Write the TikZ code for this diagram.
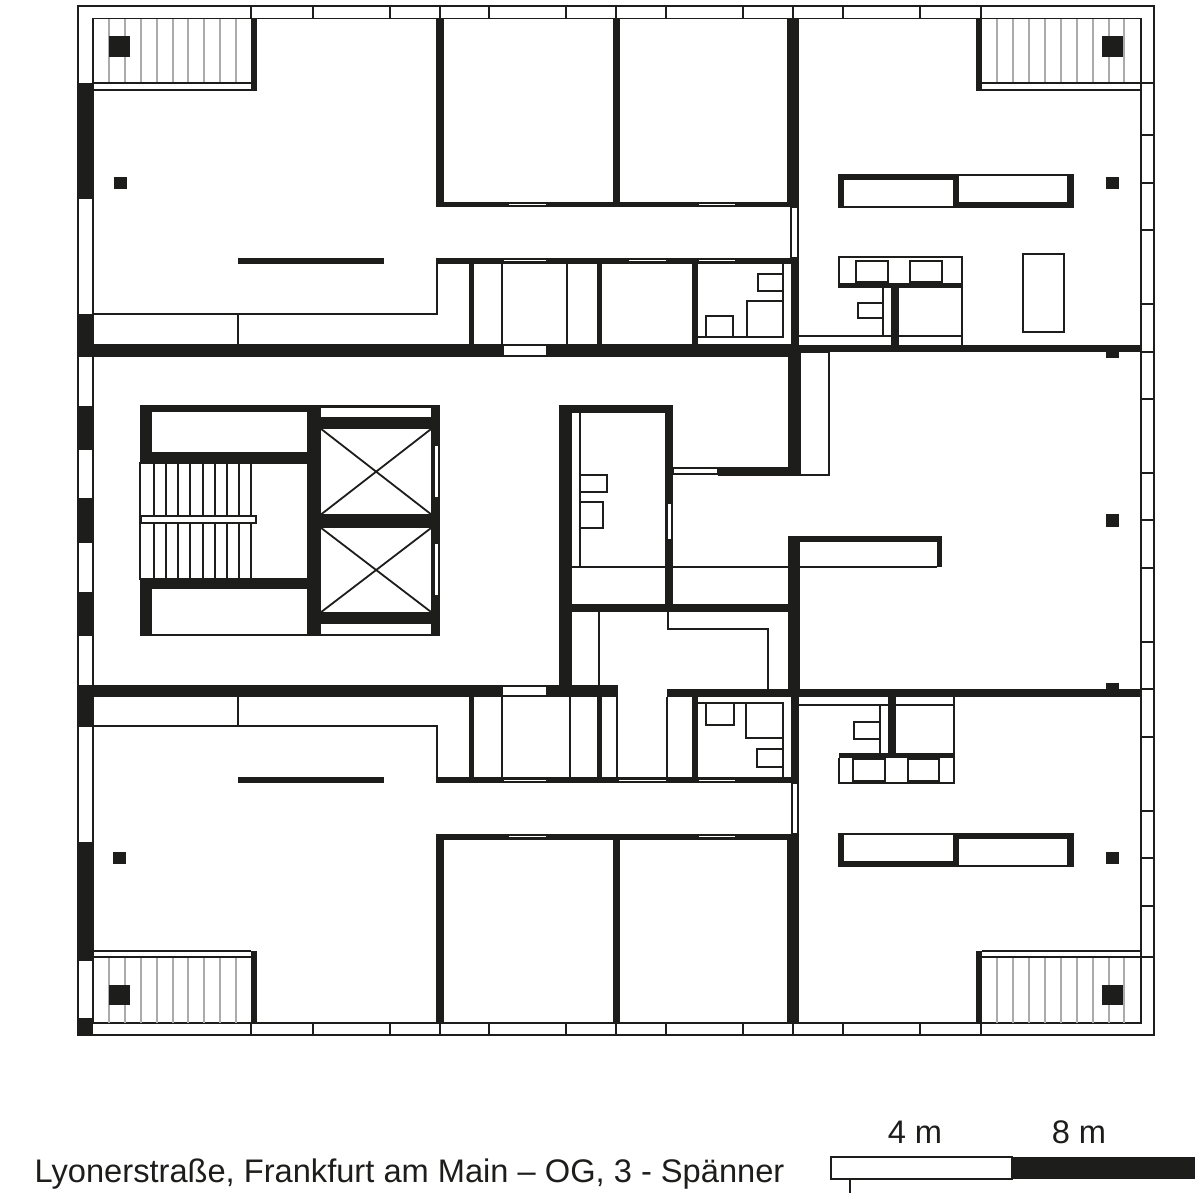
\documentclass[tikz,border=0pt]{standalone}
\usepackage{fontspec}
\setmainfont{Liberation Sans}
\definecolor{wallBlack}{HTML}{1D1D1B}
\definecolor{slatGrey}{HTML}{ABABAB}
\tikzset{
  wall/.style={fill=wallBlack},
  thinLine/.style={draw=wallBlack,line width=0.18mm},
  opening/.style={thinLine,fill=white},
  slat/.style={draw=slatGrey,line width=0.2mm},
  labelText/.style={anchor=base,inner sep=0pt,text=wallBlack,font=\fontsize{9.28pt}{11pt}\selectfont}
}
\begin{document}
\begin{tikzpicture}[x=0.01cm,y=-0.01cm]
  \useasboundingbox[fill=white] (0,0) rectangle (1200,1200);
  % facade
  \draw[thinLine] (78,6) rectangle (1154,1035);
  \draw[thinLine] (93,18.5) rectangle (1141,1023);
  \foreach \xm in {251,313,390,440,489,566,616,666,743,793,843,920,981} {
    \draw[thinLine] (\xm,6) -- (\xm,18.5);
    \draw[thinLine] (\xm,1023) -- (\xm,1035);
  }
  \foreach \ym in {83.3,135,182.7,230.3,304,351.7,399.3,472.7,520.3,568.3,641.7,689.3,737.3,810.7,858.3,906,957.3}
    \draw[thinLine] (1141,\ym) -- (1154,\ym);
  \foreach \ya/\yb in {83.3/199,314/357,405.7/450,498.3/542.7,591.7/635.7,685/726.7,842.3/961,1018.3/1035}
    \fill[wall] (78,\ya) rectangle (93,\yb);
  % balconies
  \foreach \yTop/\yBot/\yA/\yB/\yC/\yD in {18.5/83.3/83.3/89.7/36.3/56.7,957.3/1023/950.7/957.3/984.7/1004.7} {
    \foreach \xs in {109,125,140.7,156.7,172.7,188.3,204,220,236,997.3,1013.3,1029.3,1045,1061,1076.7,1092.7,1108.7,1124.3}
      \draw[slat] (\xs,\yTop) -- (\xs,\yBot);
    \draw[thinLine] (93,\yA) -- (251,\yA) (93,\yB) -- (251,\yB);
    \draw[thinLine] (982,\yA) -- (1141,\yA) (982,\yB) -- (1141,\yB);
    \fill[wall] (109,\yC) rectangle (130.3,\yD);
    \fill[wall] (1102,\yC) rectangle (1122.7,\yD);
  }
  % thin partitions
  \draw[thinLine] (93,314.3) -- (436.7,314.3) -- (436.7,258);
  \draw[thinLine] (93,726) -- (436.7,726) -- (436.7,777.3);
  \foreach \xv/\ya/\yb in {501.7/263/344,567.3/263/344,501.7/697/777,570.3/697/777,617.3/697/777,667.3/697/777,598.7/612/685,580/413/566.7,882.7/288/335.7,879.7/705/752.7}
    \draw[thinLine] (\xv,\ya) -- (\xv,\yb);
  \draw[thinLine] (697.7,337) -- (783.3,337) -- (783.3,263.7);
  \draw[thinLine] (697.7,703.3) -- (782.7,703.3) -- (782.7,777);
  \draw[thinLine] (799,335.7) -- (961.7,335.7);
  \draw[thinLine] (799,705) -- (953.7,705);
  \draw[thinLine] (572,566.7) -- (936.7,566.7);
  \draw[thinLine] (667.7,612) -- (667.7,629) -- (767.7,629) -- (767.7,690);
  \draw[thinLine] (800,352) rectangle (829.3,474.7);
  \draw[thinLine] (839,288) -- (839,256.7) -- (961.7,256.7) -- (961.7,345);
  \draw[thinLine] (953.7,697) -- (953.7,782.7) -- (839,782.7) -- (839,758);
  % fixtures
  \foreach \xa/\ya/\xb/\yb in {758/274/783.3/291,747/300.7/783.3/337,706.3/315.7/733/337,705.7/703.3/734.3/725,746/703.3/782.7/738.3,757/749.3/782.7/766.7,855.7/260.7/887.7/282,909.7/260.7/942/282,857.7/303/882.7/318.3,1023/254.3/1063.7/332,854/722.3/879.7/739.3,853.3/759/885/780.7,907.7/759/939/780.7,580/475/606.7/491.7,580/501.7/602.7/528}
    \draw[thinLine] (\xa,\ya) rectangle (\xb,\yb);
  % walls
  \foreach \xa/\ya/\xb/\yb in {
    78/344/793/357.3,237/314/239/344,237/696/239/726,
    237.7/257.7/384/263.7,237.7/777.3/384/783.3,
    251.3/18.5/256.7/90.7,251/950.7/256.7/1023,976/18.5/982.3/90.7,976/950.7/982.3/1023,
    435.7/18.5/444/207.3,612.7/18.5/620.3/203,786.7/18.5/799.3/207.3,436/201.7/793/207.3,
    436/257.7/799/263.7,468.7/263/474.3/344,596.7/263/602.3/344,691.7/263/697.7/344,791.3/257.7/799.3/345,
    799/345/1141/352.3,787.7/344/799.3/352,787.7/352/800.3/475.7,718.3/467.3/800.3/475.7,
    839/282.7/962/288.3,891/288/899/345,
    839/174.7/959/180.3,839/174.7/844.3/207.3,953.3/174.7/959/207.3,953.3/201.7/1073/207.3,1067.3/174.7/1073/207.3,
    559/405/572/685,559/405/673.3/413.3,665.3/405/673.3/605,559/604/788/612,
    787.7/536/800.3/697,787.7/536/942.3/541.7,936.7/536/942.3/567.3,
    78/685/502.3/696.5,502/684.5/618/697,667/689.3/1141/696.7,
    436/777.3/799/783.3,468.7/697/474.3/777,596.7/697/602.3/777,691.7/697/697.7/777,791.3/690/799.3/783,
    888.3/697/896.3/755,839/752.7/953.7/758.3,
    839/860.7/959/866.3,839/833.7/844.3/866.3,953.3/833.7/959/866.3,953.3/833.7/1073/839.3,1067.3/833.7/1073/866.3,
    435.7/833.7/444/1023,436/833.7/793/839.7,612.7/839/620.3/1023,786.7/833.7/799.3/1023,
    114/176.7/127/189,1106/176.7/1118.7/189,112.7/852.3/125.7/864.3,1106/852.3/1118.7/864.3,
    1106/514.3/1118.7/526.7,1106/352/1118.7/357.7,1106/683.3/1118.7/690}
    \fill[wall] (\xa,\ya) rectangle (\xb,\yb);
  \draw[thinLine] (839,174.7) rectangle (1073,207.3);
  \draw[thinLine] (839,833.7) rectangle (1073,866.3);
  % openings in the walls
  \foreach \xa/\ya/\xb/\yb in {
    502.7/345.3/546.7/356,502.3/686/546.7/696,
    508.3/203.5/546.7/206,697.7/203.5/736/206,
    502.7/259.3/546.7/262.3,628.3/259.3/666.7/262.3,697.7/259.3/736/262.3,
    502.7/778.7/546.7/782,618/778.7/666.7/782,697.7/778.7/736/782,
    508.3/835.3/546.7/838,697.7/835.3/736/838,
    791.3/207.3/798.3/257.7,792/783.3/798/833.7,
    673.3/468.3/718.3/474,667/503.3/672/540}
    \draw[opening] (\xa,\ya) rectangle (\xb,\yb);
  % core
  \fill[wall] (140.3,405.3) rectangle (440.3,636);
  \foreach \xa/\ya/\xb/\yb in {
    150.7/411.3/307.7/452.7,140.3/462.7/307.7/578.7,150.7/588.3/307.7/635,
    320.3/406.7/432/418,320.3/623.3/432/635,
    320.3/428.3/432/515,320.3/527.3/432/612.7,
    434/445.3/439/498,434/543.3/439/595.7}
    \draw[opening] (\xa,\ya) rectangle (\xb,\yb);
  \foreach \xs in {153.7,165.7,178,190.3,202.7,214.7,227,239,251.3}
    \draw[thinLine] (\xs,462.7) -- (\xs,578.7);
  \draw[opening] (141.3,516) rectangle (256,522.7);
  \foreach \yt/\yb in {428.3/515,527.3/612.7}
    \draw[thinLine] (320.3,\yt) -- (432,\yb) (320.3,\yb) -- (432,\yt);
  % scale bar
  \draw[thinLine,fill=white] (831,1156.7) rectangle (1012,1179);
  \fill[wall] (1012,1156.7) rectangle (1194.7,1179);
  \draw[thinLine] (849.7,1179) -- (849.7,1193);
  \node[labelText] (fourMetres) at (915,1143) {4 m};
  \node[labelText] (eightMetres) at (1079,1143) {8 m};
  \node[labelText,anchor=base west] (caption) at (34,1182) {Lyonerstraße, Frankfurt am Main – OG, 3 - Spänner};
\end{tikzpicture}
\end{document}
